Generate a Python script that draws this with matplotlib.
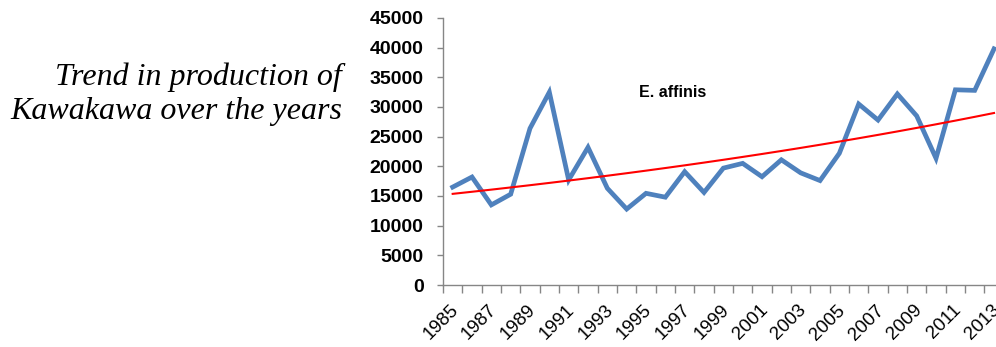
#!/usr/bin/env python3
"""Trend in production of Kawakawa (E. affinis), 1985-2013, with exponential trend line."""

import numpy as np
import matplotlib.pyplot as plt
from matplotlib.transforms import ScaledTranslation

years = list(range(1985, 2014))
production = [16500, 18200, 13500, 15300, 26400, 32500, 17700, 23200, 16300, 12800,
              15450, 14800, 19100, 15600, 19700, 20500, 18250, 21100, 18900, 17600,
              22200, 30500, 27800, 32200, 28500, 21350, 32900, 32800, 39800]
y_ticks = list(range(0, 45001, 5000))

BLUE = "#4F81BD"
RED = "#FF0000"
GREY = "#868686"


def main():
    idx = np.arange(len(years))
    vals = np.array(production, dtype=float)

    # exponential trend (like Excel's "Exponential" trendline): fit on log values
    b, ln_a = np.polyfit(idx, np.log(vals), 1)
    trend = np.exp(ln_a + b * idx)

    fig = plt.figure(figsize=(9.96, 3.47), dpi=100)
    ax = fig.add_axes([443 / 996, 62 / 347, 560.7 / 996, 267 / 347])

    ax.plot(idx, vals, color=BLUE, linewidth=3.4, solid_joinstyle="miter", zorder=3)
    ax.plot(idx, trend, color=RED, linewidth=1.5, zorder=4)

    ax.set_xlim(-0.5, len(years) - 0.5)
    ax.set_ylim(0, 45000)

    # y axis
    ax.set_yticks(y_ticks)
    ax.set_yticklabels([str(v) for v in y_ticks], fontfamily="Liberation Sans",
                       fontweight="bold", fontsize=14)
    ax.tick_params(axis="y", length=4, width=1, color=GREY, pad=10)

    # x axis: labels at category centres (odd years), tick marks on boundaries
    ax.set_xticks(idx)
    ax.set_xticklabels([str(y) if y % 2 == 1 else "" for y in years],
                       rotation=45, ha="right", rotation_mode="anchor",
                       fontfamily="Liberation Sans", fontsize=13.5)
    ax.tick_params(axis="x", which="major", length=0, pad=12)
    shift = ScaledTranslation(-3 / 100, 0, fig.dpi_scale_trans)
    for lab in ax.get_xticklabels():
        lab.set_transform(lab.get_transform() + shift)
    ax.set_xticks(np.arange(len(years) + 1) - 0.5, minor=True)
    ax.tick_params(axis="x", which="minor", length=6, width=1, color=GREY)

    for side in ("top", "right"):
        ax.spines[side].set_visible(False)
    for side in ("left", "bottom"):
        ax.spines[side].set_color(GREY)
        ax.spines[side].set_linewidth(1)

    ax.text(11.37, 32400, "E. affinis", ha="center", va="center",
            fontfamily="Liberation Sans", fontweight="bold", fontsize=11.5)

    fig.text(342 / 996, 1 - 94 / 347, "Trend in production of\nKawakawa over the years",
             ha="right", va="center", fontfamily="Liberation Serif", style="italic",
             fontsize=23, linespacing=1.22)

    fig.savefig("out.png", dpi=100)
    plt.close(fig)


if __name__ == "__main__":
    main()
